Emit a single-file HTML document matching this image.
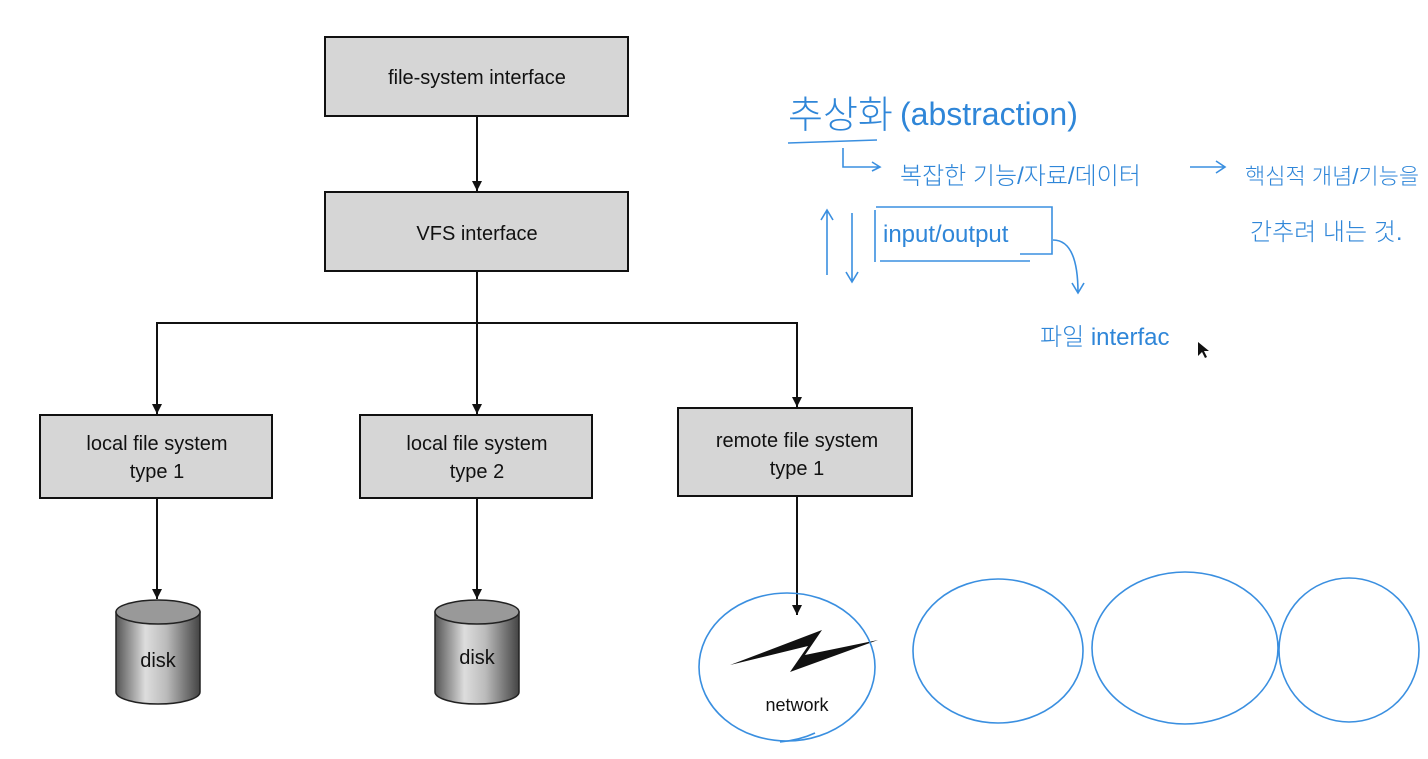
<!DOCTYPE html>
<html><head><meta charset="utf-8"><style>
body{margin:0;background:#fff;}
svg{display:block}
.b{font-family:"Liberation Sans",sans-serif;font-size:20px;fill:#111}
.h{font-family:"Liberation Sans","Noto Sans CJK KR",sans-serif;fill:#2f86d8;font-weight:300}
</style></head><body>
<svg width="1428" height="759" viewBox="0 0 1428 759" xmlns="http://www.w3.org/2000/svg">
<defs>
<marker id="a" markerWidth="10" markerHeight="10" refX="10" refY="5" orient="auto" markerUnits="userSpaceOnUse">
<path d="M0,0 L10,5 L0,10 Z" fill="#111"/></marker>
<linearGradient id="g" x1="0" x2="1">
<stop offset="0" stop-color="#555"/><stop offset="0.35" stop-color="#ddd"/><stop offset="0.6" stop-color="#bbb"/><stop offset="1" stop-color="#444"/></linearGradient>
</defs>
<g fill="#d6d6d6" stroke="#111" stroke-width="2">
<rect x="325" y="37" width="303" height="79"/>
<rect x="325" y="192" width="303" height="79"/>
<rect x="40" y="415" width="232" height="83"/>
<rect x="360" y="415" width="232" height="83"/>
<rect x="678" y="408" width="234" height="88"/>
</g>
<g stroke="#111" stroke-width="2" fill="none">
<line x1="477" y1="116" x2="477" y2="191" marker-end="url(#a)"/>
<line x1="477" y1="271" x2="477" y2="414" marker-end="url(#a)"/>
<polyline points="157,400 157,323 797,323 797,396"/>
<line x1="157" y1="398" x2="157" y2="414" marker-end="url(#a)"/>
<line x1="797" y1="390" x2="797" y2="407" marker-end="url(#a)"/>
<line x1="157" y1="498" x2="157" y2="599" marker-end="url(#a)"/>
<line x1="477" y1="498" x2="477" y2="599" marker-end="url(#a)"/>
<line x1="797" y1="496" x2="797" y2="615" marker-end="url(#a)"/>
</g>
<text class="b" x="477" y="84" text-anchor="middle">file-system interface</text>
<text class="b" x="477" y="240" text-anchor="middle">VFS interface</text>
<text class="b" x="157" y="450" text-anchor="middle">local file system</text>
<text class="b" x="157" y="478" text-anchor="middle">type 1</text>
<text class="b" x="477" y="450" text-anchor="middle">local file system</text>
<text class="b" x="477" y="478" text-anchor="middle">type 2</text>
<text class="b" x="797" y="447" text-anchor="middle">remote file system</text>
<text class="b" x="797" y="475" text-anchor="middle">type 1</text>
<g stroke="#222" stroke-width="1.5">
<path d="M116,612 L116,692 A42,12 0 0 0 200,692 L200,612 Z" fill="url(#g)"/>
<ellipse cx="158" cy="612" rx="42" ry="12" fill="#999"/>
<path d="M435,612 L435,692 A42,12 0 0 0 519,692 L519,612 Z" fill="url(#g)"/>
<ellipse cx="477" cy="612" rx="42" ry="12" fill="#999"/>
</g>
<text class="b" x="158" y="667" text-anchor="middle">disk</text>
<text class="b" x="477" y="664" text-anchor="middle">disk</text>
<path d="M730,665 L822,630 L805,655 L878,640 L790,672 L808,646 Z" fill="#111"/>
<text class="b" x="797" y="711" text-anchor="middle" style="font-size:18px">network</text>
<g fill="none" stroke="#3a8fe0" stroke-width="1.6">
<ellipse cx="787" cy="667" rx="88" ry="74"/>
<path d="M780,742 Q800,740 815,733"/>
<ellipse cx="998" cy="651" rx="85" ry="72"/>
<ellipse cx="1185" cy="648" rx="93" ry="76"/>
<ellipse cx="1349" cy="650" rx="70" ry="72"/>
<line x1="788" y1="143" x2="877" y2="140"/>
<path d="M843,148 L843,167 L880,167 M872,162 L880,167 L872,171"/>
<path d="M1190,167 L1225,167 M1216,161 L1225,167 L1216,173"/>
<path d="M827,275 L827,210 M821,220 L827,210 L833,220"/>
<path d="M852,213 L852,282 M846,272 L852,282 L858,272"/>
<path d="M875,210 L875,262 M876,207 L1052,207 L1052,254 L1020,254 M880,261 L1030,261"/>
<path d="M1053,240 Q1078,240 1078,293 M1072,283 L1078,293 L1084,283"/>
</g>
<text class="h" x="788" y="128" style="font-size:38px">추상화</text>
<text class="h" x="900" y="125" style="font-size:32px">(abstraction)</text>
<text class="h" x="900" y="184" style="font-size:24px">복잡한 기능/자료/데이터</text>
<text class="h" x="1245" y="184" style="font-size:22px">핵심적 개념/기능을</text>
<text class="h" x="1250" y="240" style="font-size:24px">간추려 내는 것.</text>
<text class="h" x="883" y="242" style="font-size:24px">input/output</text>
<text class="h" x="1040" y="345" style="font-size:24px">파일 interfac</text>
<path d="M1198,342 L1198,356 L1202,352 L1205,358 L1207,357 L1204,351 L1209,351 Z" fill="#111"/>
</svg>
</body></html>
